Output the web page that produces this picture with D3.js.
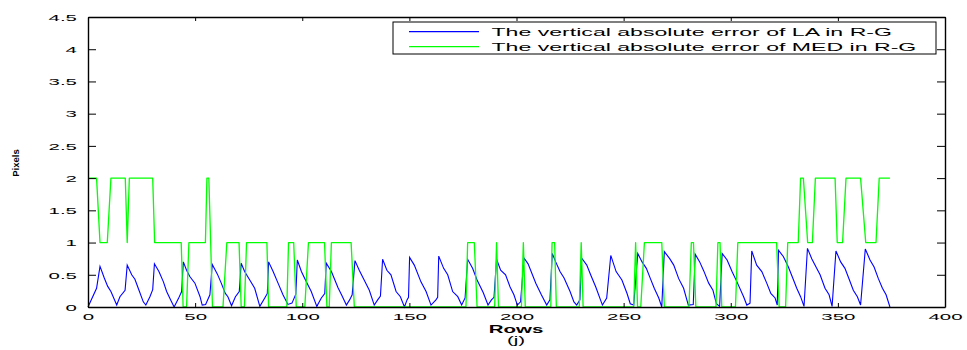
<!DOCTYPE html>
<html>
<head>
<meta charset="utf-8">
<script src="https://cdn.jsdelivr.net/npm/d3@7"></script>
<style>
  body { margin: 0; background: #fff; }
  svg text { font-family: "Liberation Sans", Arial, sans-serif; fill: #000; }
</style>
</head>
<body>
<div id="chart"></div>
<script>
// vertical absolute error of LA in R-G: [row, pixels]
const laError = [
  [0,0],[4,0.29],[5.6,0.63],[7.6,0.45],[9.2,0.32],[10.7,0.24],[13.4,0.03],[14.9,0.16],[17.3,0.26],
  [18.3,0.65],[20.4,0.5],[21.9,0.43],[23.8,0.26],[25.8,0.08],[27,0.03],[28.9,0.16],[30.2,0.27],
  [31,0.67],[33.1,0.55],[35.2,0.39],[36.7,0.24],[38.7,0.1],[40.2,0],[42.2,0.13],[43.7,0.24],
  [44.5,0.7],[46,0.57],[47.6,0.47],[49.9,0.37],[52.3,0.16],[53.3,0.03],[54.9,0.04],[56.9,0.19],
  [58,0.66],[60.4,0.51],[62.2,0.37],[64.1,0.21],[65.3,0.16],[67,0.02],[68.8,0.16],[70.6,0.24],
  [71.5,0.68],[73.1,0.55],[75.5,0.42],[77.8,0.29],[80.2,0.01],[82.5,0.14],[83.7,0.21],
  [84.3,0.7],[86.4,0.55],[88.7,0.37],[91,0.19],[93.3,0.04],[95.2,0.06],[97,0.2],
  [97.7,0.73],[99.6,0.55],[101.5,0.42],[104.2,0.24],[106.8,0.01],[108.9,0.14],[110.5,0.21],
  [111.2,0.68],[113.6,0.55],[116.7,0.3],[118.5,0.18],[120.6,0.03],[122.1,0.11],[123.3,0.19],
  [124.6,0.72],[126.6,0.57],[128.9,0.42],[131.3,0.26],[133.6,0.03],[135.2,0.11],[136.5,0.17],
  [137.5,0.74],[139.5,0.57],[141.4,0.5],[143.8,0.24],[145.8,0.16],[147.7,0],[148.9,0.11],[149.6,0.15],
  [150.1,0.77],[152.3,0.65],[155.4,0.39],[157.8,0.24],[160.1,0.03],[162.4,0.11],[163.2,0.15],
  [163.7,0.79],[166,0.6],[167.9,0.5],[170.2,0.24],[172.6,0.16],[174.4,0.03],[176,0.14],
  [177.2,0.74],[179.5,0.6],[181.6,0.42],[184.5,0.22],[186.7,0.03],[188.3,0.11],[189.5,0.15],
  [190.7,0.74],[192.6,0.57],[194.9,0.5],[197,0.31],[198.8,0.19],[200.4,0.03],[201.9,0.08],
  [203.5,0.76],[205.4,0.67],[209,0.37],[211.6,0.19],[214.1,0.03],[215.6,0.11],
  [216.7,0.83],[218.3,0.7],[220.3,0.55],[222.2,0.45],[225,0.24],[226.8,0.08],[228.1,0.03],[229.6,0.11],
  [230.4,0.76],[232.8,0.65],[234.6,0.5],[237,0.31],[240.1,0.03],[242.1,0.14],
  [244,0.8],[246.5,0.55],[249.2,0.42],[251.6,0.21],[253.1,0.05],[254.7,0.03],
  [256.6,0.83],[258.6,0.7],[260.6,0.6],[262.5,0.44],[264.3,0.29],[266.4,0.14],[267.8,0],
  [269,0.86],[271.5,0.75],[273.4,0.65],[275.7,0.44],[278,0.29],[280.2,0.03],[282.5,0.04],
  [283.4,0.82],[285.5,0.7],[287.4,0.56],[289.7,0.37],[291.7,0.26],[293.3,0.05],[294.8,0.01],
  [296,0.83],[298.3,0.73],[300.6,0.55],[302.9,0.39],[306,0.16],[307.5,0.03],[309,0.06],
  [309.8,0.87],[312.1,0.65],[314.5,0.55],[316.8,0.37],[318.7,0.21],[320.7,0.14],[321.7,0.03],
  [322.3,0.88],[324.6,0.78],[326.9,0.62],[329.3,0.42],[330.8,0.29],[332.6,0.16],[334.2,0.01],
  [335.8,0.91],[337.8,0.75],[339.8,0.62],[341.7,0.5],[344,0.29],[345.9,0.19],[347.3,0.01],
  [349.1,0.87],[351.3,0.7],[353.3,0.6],[355.4,0.42],[357.2,0.26],[359.1,0.16],[360.6,0.03],
  [362.8,0.9],[365,0.73],[366.9,0.62],[368.9,0.44],[370.8,0.29],[372.5,0.19],[374.3,0]
];

// vertical absolute error of MED in R-G: [row, pixels]
const medError = [
  [0,2],[4,2],[5.6,1],[9,1],[10.7,2],[17.4,2],[18.3,1],[19.3,2],[30.2,2],[31.1,1],[43.5,1],
  [44.4,0],[46,0],[47.1,1],[54.8,1],[55.5,2],[56.4,2],[58.1,0],[63,0],[64.8,1],[70.5,1],
  [71.5,0],[73,0],[74,1],[83.5,1],[84.3,0],[92.8,0],[93.6,1],[96,1],[97.2,0],[101.2,0],
  [102.9,1],[110.4,1],[111.5,0],[112.6,0],[113.6,1],[122.8,1],[124.3,0],[176.4,0],[177.2,1],
  [180.3,1],[181.6,0],[189.8,0],[190.7,1],[191.6,0],[202.3,0],[203.2,1],[204.1,0],[216,0],
  [216.6,1],[217.8,1],[218.6,0],[229.3,0],[230.2,1],[231.1,0],[254.7,0],[255.6,1],[256.5,0],
  [258,0],[259.7,1],[267.8,1],[269,0],[280.5,0],[281.6,1],[282.6,1],[283.7,0],[293.1,0],
  [294,1],[295,1],[295.8,0],[302.2,0],[303.3,1],[321.4,1],[322.6,0],[325.6,0],[326.6,1],
  [331.5,1],[332.6,2],[333.9,2],[335.9,1],[338.1,1],[339.5,2],[348.7,2],[349.7,1],[352.2,1],
  [353.8,2],[360.6,2],[363,1],[367.8,1],[369.3,2],[374.3,2]
];

const xTicks = [0, 50, 100, 150, 200, 250, 300, 350, 400];
const yTicks = [0, 0.5, 1, 1.5, 2, 2.5, 3, 3.5, 4, 4.5];
const seriesNames = ["The vertical absolute error of LA in R-G", "The vertical absolute error of MED in R-G"];
const seriesColors = ["#0000ff", "#00ff00"];

const W = 967, H = 350;
const margin = {top: 17, right: 22, bottom: 43, left: 88};
const width = W - margin.left - margin.right;
const height = H - margin.top - margin.bottom;
const SX = 2.2; // horizontal stretch of the lettering in the picture

const svg = d3.select("#chart").append("svg")
  .attr("width", W).attr("height", H)
  .style("background", "#fff");

const g = svg.append("g").attr("transform", `translate(${margin.left},${margin.top})`);

const x = d3.scaleLinear().domain([0, 400]).range([0, width]);
const y = d3.scaleLinear().domain([0, 4.5]).range([height, 0]);

const line = d3.line().x(d => x(d[0])).y(d => y(d[1]));

g.append("path").datum(laError)
  .attr("fill", "none").attr("stroke", seriesColors[0]).attr("stroke-width", 1.1)
  .attr("d", line);
g.append("path").datum(medError)
  .attr("fill", "none").attr("stroke", seriesColors[1]).attr("stroke-width", 1.3)
  .attr("stroke-linejoin", "round")
  .attr("d", line);

function styleAxis(sel) {
  sel.selectAll(".domain").attr("stroke", "#000").attr("stroke-width", 1.4);
  sel.selectAll(".tick line").attr("stroke", "#000").attr("stroke-width", 1);
}

// bottom
const ax = g.append("g").attr("transform", `translate(0,${height})`)
  .call(d3.axisBottom(x).tickValues(xTicks).tickSizeInner(-4).tickSizeOuter(0));
styleAxis(ax);
ax.selectAll(".tick text")
  .attr("y", null).attr("dy", null)
  .attr("font-size", 9.3)
  .attr("text-anchor", "middle")
  .attr("transform", `translate(0,13) scale(${SX},1)`);

// left
const ay = g.append("g")
  .call(d3.axisLeft(y).tickValues(yTicks).tickFormat(d3.format("~g")).tickSizeInner(-8).tickSizeOuter(0));
styleAxis(ay);
ay.selectAll(".tick text")
  .attr("x", null).attr("dy", "0.35em")
  .attr("font-size", 9.3)
  .attr("text-anchor", "end")
  .attr("transform", `translate(-11,0) scale(${SX},1)`);

// top and right
const at = g.append("g")
  .call(d3.axisTop(x).tickValues(xTicks).tickSizeInner(-4).tickSizeOuter(0).tickFormat(""));
styleAxis(at);
const ar = g.append("g").attr("transform", `translate(${width},0)`)
  .call(d3.axisRight(y).tickValues(yTicks).tickSizeInner(-8).tickSizeOuter(0).tickFormat(""));
styleAxis(ar);

// axis titles
svg.append("text")
  .attr("transform", `translate(516,333) scale(2.05,1)`)
  .attr("text-anchor", "middle").attr("font-size", 10).attr("font-weight", "bold")
  .text("Rows");
svg.append("text")
  .attr("transform", `translate(516,344) scale(2.05,1)`)
  .attr("text-anchor", "middle").attr("font-size", 10)
  .text("(j)");
svg.append("text")
  .attr("transform", "translate(19,163) rotate(-90)")
  .attr("text-anchor", "middle").attr("font-size", 9.5).attr("font-weight", "bold")
  .text("Pixels");

// legend
const legend = svg.append("g");
legend.append("rect")
  .attr("x", 393).attr("y", 22).attr("width", 543).attr("height", 32)
  .attr("fill", "#fff").attr("stroke", "#000").attr("stroke-width", 1);
seriesNames.forEach((name, i) => {
  const ly = 31.7 + i * 15;
  legend.append("line")
    .attr("x1", 409).attr("x2", 479).attr("y1", ly).attr("y2", ly)
    .attr("stroke", seriesColors[i]).attr("stroke-width", 1.2);
  legend.append("text")
    .attr("transform", `translate(491.5,${ly + 3.8}) scale(${SX},1)`)
    .attr("font-size", 10.5)
    .text(name);
});
</script>
</body>
</html>
